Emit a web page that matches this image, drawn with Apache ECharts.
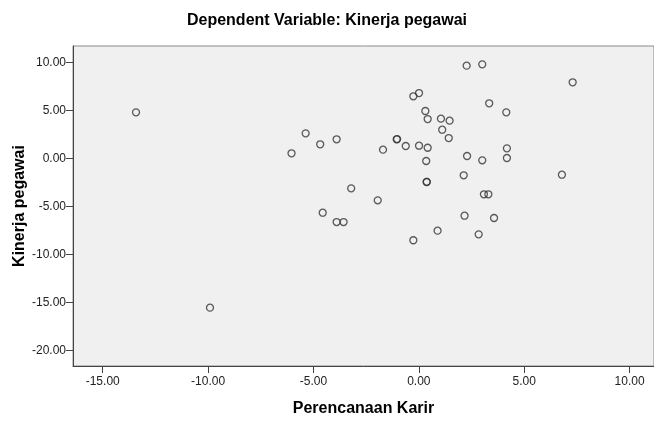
<!DOCTYPE html>
<html>
<head>
<meta charset="utf-8">
<script src="https://cdn.jsdelivr.net/npm/echarts@6/dist/echarts.min.js"></script>
<style>html,body{margin:0;padding:0;background:#fff}#c{width:654px;height:421px}</style>
</head>
<body>
<div id="c"></div>
<script>
const titleText = 'Dependent Variable: Kinerja pegawai';
const xName = 'Perencanaan Karir';
const yName = 'Kinerja pegawai';
const xTicks = [-15, -10, -5, 0, 5, 10];
const yTicks = [-20, -15, -10, -5, 0, 5, 10];
const xVals = [-13.42, -6.04, -5.37, -4.68, -3.90, -3.21, -4.56, -3.90, -3.57, -9.91,
  2.27, 3.01, 7.30, -0.26, 0.01, 3.34, 4.15, 0.31, 0.42, 1.05,
  1.46, 1.11, 1.42, -1.05, -1.03, -0.62, -1.70, 0.01, 0.42, 4.18,
  4.18, 2.29, 3.01, 0.35, 2.13, 6.79, 0.37, 0.38, -1.95, 3.09,
  3.30, -0.26, 0.89, 2.17, 2.84, 3.57];
const yVals = [4.79, 0.52, 2.60, 1.46, 1.98, -3.13, -5.67, -6.64, -6.64, -15.56,
  9.65, 9.79, 7.92, 6.46, 6.80, 5.73, 4.79, 4.93, 4.09, 4.13,
  3.92, 2.98, 2.11, 1.98, 2.00, 1.28, 0.90, 1.31, 1.10, 1.04,
  0.03, 0.24, -0.21, -0.28, -1.77, -1.71, -2.47, -2.45, -4.38, -3.75,
  -3.75, -8.54, -7.54, -5.98, -7.92, -6.22];

const data = xVals.map((x, i) => [x, yVals[i]]);
const font = 'Liberation Sans, Arial, sans-serif';
const chart = echarts.init(document.getElementById('c'), null, {renderer: 'canvas'});
chart.setOption({
  animation: false,
  backgroundColor: '#ffffff',
  title: {
    text: titleText, left: 'center', top: 8,
    textStyle: {fontFamily: font, fontSize: 16, fontWeight: 'bold', color: '#000'}
  },
  grid: {
    left: 73, right: 0, top: 46, bottom: 55, containLabel: false,
    outerBoundsMode: 'none',
    show: true, backgroundColor: '#f0f0f0', borderColor: '#8a8a8a', borderWidth: 1
  },
  xAxis: {
    type: 'value', min: -16.41, max: 11.16,
    name: xName, nameLocation: 'middle', nameGap: 35,
    nameTextStyle: {fontFamily: font, fontSize: 16, fontWeight: 'bold', color: '#000'},
    axisLine: {show: true, onZero: false, lineStyle: {color: '#444', width: 1}},
    axisTick: {show: true, length: 7, customValues: xTicks, lineStyle: {color: '#444'}},
    axisLabel: {customValues: xTicks, margin: 10, fontFamily: font, fontSize: 12, color: '#222',
      formatter: v => v.toFixed(2)},
    splitLine: {show: false}
  },
  yAxis: {
    type: 'value', min: -21.64, max: 11.7,
    name: yName, nameLocation: 'middle', nameGap: 45, nameMoveOverlap: false,
    nameTextStyle: {fontFamily: font, fontSize: 16, fontWeight: 'bold', color: '#000'},
    axisLine: {show: true, onZero: false, lineStyle: {color: '#444', width: 1}},
    axisTick: {show: true, length: 7, customValues: yTicks, lineStyle: {color: '#444'}},
    axisLabel: {customValues: yTicks, margin: 7, fontFamily: font, fontSize: 12, color: '#222',
      formatter: v => v.toFixed(2)},
    splitLine: {show: false}
  },
  series: [{
    type: 'scatter', data: data, symbol: 'circle', symbolSize: 7,
    itemStyle: {color: 'rgba(0,0,0,0)', borderColor: '#333', borderWidth: 1.3}
  }]
});
</script>
</body>
</html>
